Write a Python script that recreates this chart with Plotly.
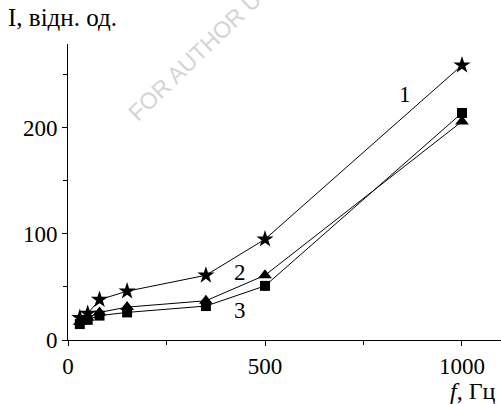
import plotly.graph_objects as go

freq = [30, 50, 80, 150, 350, 500, 1000]
s1 = [21, 25, 38, 46, 61, 95, 259]
s2 = [17, 21, 26, 31, 37, 61, 206]
s3 = [15, 19, 23, 26, 32, 51, 214]
labels = ["1", "2", "3"]
label_pos = [(855, 231), (437, 64), (437, 28)]

FONT = "Liberation Serif, Times New Roman, serif"

fig = go.Figure()
for ys, sym, sz in [(s1, "star", 13), (s2, "triangle-up", 12), (s3, "square", 10)]:
    fig.add_trace(go.Scatter(
        x=freq, y=ys, mode="lines+markers",
        line=dict(color="black", width=1),
        marker=dict(symbol=sym, size=sz, color="black", line=dict(width=0)),
        showlegend=False, cliponaxis=False,
    ))

for t, (lx, ly) in zip(labels, label_pos):
    fig.add_annotation(x=lx, y=ly, text=t, showarrow=False,
                       font=dict(family=FONT, size=23, color="black"))

fig.add_annotation(xref="paper", yref="paper", x=-62/433, y=1.0 + 26/296,
                   xanchor="left", yanchor="middle", text="I, відн. од.",
                   showarrow=False, font=dict(family=FONT, size=25, color="black"))
fig.add_annotation(xref="paper", yref="paper", x=(498-68)/433, y=-(391-340)/296,
                   xanchor="right", yanchor="middle", text="<i>f</i>, Гц",
                   showarrow=False, font=dict(family=FONT, size=24, color="black"))
fig.add_annotation(xref="paper", yref="paper", x=(230-68)/433, y=(340-22)/296,
                   xanchor="center", yanchor="middle", text="FOR AUTHOR USE ONLY",
                   textangle=-44, showarrow=False,
                   font=dict(family="Liberation Sans, Arial, sans-serif", size=23, color="#d4d4d4"))

axis_common = dict(
    showline=True, linecolor="black", linewidth=1, showgrid=False, zeroline=False,
    ticks="outside", ticklen=5, tickcolor="black", tickwidth=1,
    tickfont=dict(family=FONT, size=23, color="black"),
)
fig.update_xaxes(range=[0, 1099], tickvals=[0, 500, 1000],
                 minor=dict(ticks="outside", ticklen=4, tickcolor="black", tickvals=[250, 750]),
                 **axis_common)
fig.update_yaxes(range=[0, 279], tickvals=[0, 100, 200],
                 minor=dict(ticks="outside", ticklen=4, tickcolor="black", tickvals=[50, 150, 250]),
                 **axis_common)

fig.update_layout(
    width=501, height=404,
    margin=dict(l=68, r=0, t=44, b=64),
    plot_bgcolor="white", paper_bgcolor="white",
    font=dict(family=FONT, size=22, color="black"),
)
fig.write_html("out.html")
